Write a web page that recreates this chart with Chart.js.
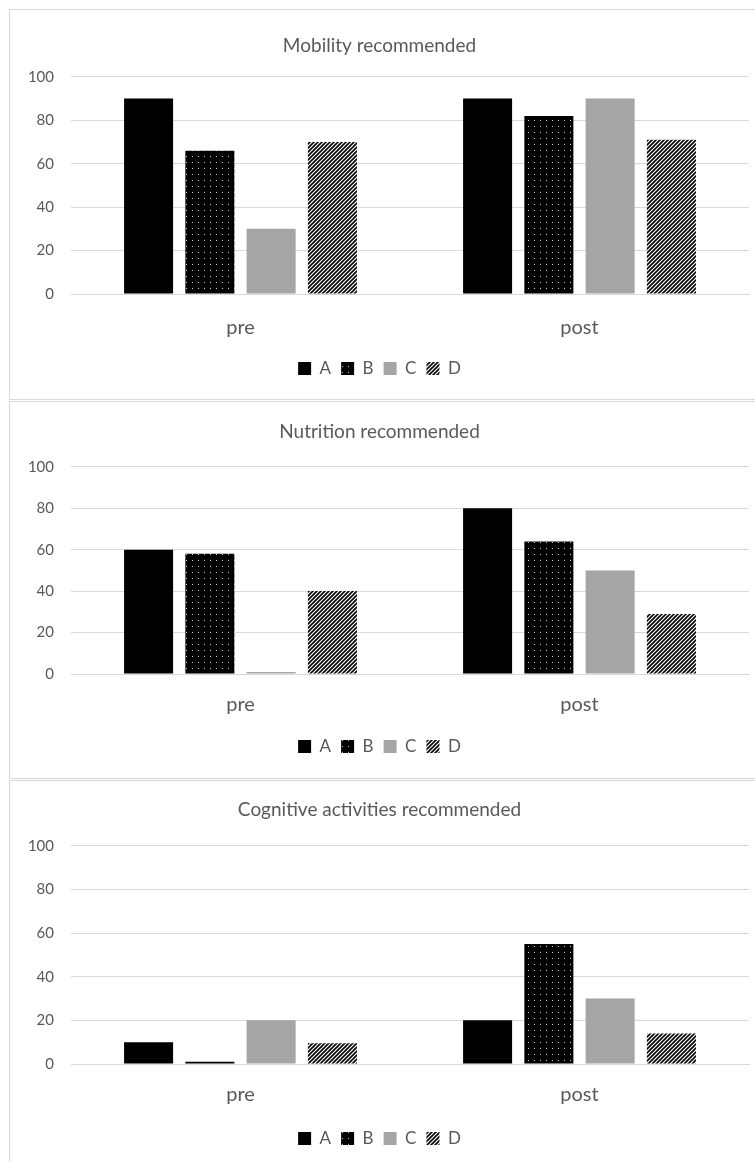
<!DOCTYPE html>
<html lang="en">
<head>
<meta charset="UTF-8">
<script src="https://cdn.jsdelivr.net/npm/chart.js"></script>
<title>Recommendations pre / post</title>
<style>
    body { margin: 0; background: #fff; width: 755px; height: 1161px; overflow: hidden; position: relative; }
    .panel { position: absolute; left: 9px; width: 770px; border: 1px solid #d9d9d9; box-sizing: border-box; }
    canvas { position: absolute; left: 10px; }
</style>
</head>
<body>
<div class="panel" style="top:9px;height:391px"></div>
<div class="panel" style="top:401px;height:378px"></div>
<div class="panel" style="top:780px;height:400px"></div>
<canvas id="c1" width="745" height="389" style="top:10px"></canvas>
<canvas id="c2" width="745" height="376" style="top:402px"></canvas>
<canvas id="c3" width="745" height="383" style="top:782px"></canvas>
<script>
    const categories = ['pre', 'post']
    const seriesNames = ['A', 'B', 'C', 'D']
    const yTicks = [0, 20, 40, 60, 80, 100]

    // Mobility recommended
    const mobilityA = [90, 90]
    const mobilityB = [66, 82]
    const mobilityC = [30, 90]
    const mobilityD = [70, 71]

    // Nutrition recommended
    const nutritionA = [60, 80]
    const nutritionB = [58, 64]
    const nutritionC = [1, 50]
    const nutritionD = [40, 29]

    // Cognitive activities recommended
    const cognitiveA = [10, 20]
    const cognitiveB = [1, 55]
    const cognitiveC = [20, 30]
    const cognitiveD = [9.5, 14]

    const FONT = 'Lato'
    const TEXT = '#595959'
    const GRID = '#d9d9d9'

    function dotPattern() {
        const c = document.createElement('canvas')
        c.width = 6; c.height = 6
        const x = c.getContext('2d')
        x.fillStyle = '#000'
        x.fillRect(0, 0, 6, 6)
        x.fillStyle = '#c8c8c8'
        x.fillRect(2, 2, 1, 1)
        return x.createPattern(c, 'repeat')
    }

    function stripePattern() {
        const c = document.createElement('canvas')
        c.width = 4; c.height = 4
        const x = c.getContext('2d')
        x.fillStyle = '#fff'
        x.fillRect(0, 0, 4, 4)
        x.strokeStyle = '#000'
        x.lineWidth = 1.6
        x.beginPath()
        x.moveTo(-1, 5); x.lineTo(5, -1)
        x.moveTo(-3, 3); x.lineTo(3, -3)
        x.moveTo(1, 7); x.lineTo(7, 1)
        x.stroke()
        return x.createPattern(c, 'repeat')
    }

    const fills = ['#000000', dotPattern(), '#a5a5a5', stripePattern()]

    function makeChart(id, title, values, g) {
        const datasets = seriesNames.map((name, i) => ({
            label: name,
            data: values[i],
            backgroundColor: fills[i],
            borderWidth: 0,
            categoryPercentage: 0.723,
            barPercentage: 0.8
        }))
        return new Chart(document.getElementById(id), {
            type: 'bar',
            data: { labels: categories, datasets },
            options: {
                responsive: false,
                animation: false,
                layout: { padding: { left: 0, right: 6, top: 0, bottom: g.padBottom } },
                plugins: {
                    title: {
                        display: true,
                        text: title,
                        color: TEXT,
                        font: { family: FONT, size: 19, weight: 'normal' },
                        padding: { top: g.titleTop, bottom: g.titleBottom }
                    },
                    legend: {
                        position: 'bottom',
                        labels: {
                            color: TEXT,
                            font: { family: FONT, size: 17 },
                            boxWidth: 13,
                            boxHeight: 13,
                            padding: 10
                        }
                    },
                    tooltip: { enabled: false }
                },
                scales: {
                    x: {
                        grid: { display: false, drawTicks: false },
                        border: { display: true, color: GRID, width: 1 },
                        ticks: { color: TEXT, font: { family: FONT, size: 20 }, padding: g.xPad },
                        afterFit: (s) => { s.height = g.xHeight }
                    },
                    y: {
                        min: 0, max: 100,
                        afterBuildTicks: (s) => { s.ticks = yTicks.map(v => ({ value: v })) },
                        grid: { color: GRID, drawTicks: false },
                        border: { display: false },
                        ticks: { color: TEXT, font: { family: FONT, size: 15 }, padding: 17 },
                        afterFit: (s) => { s.width = 61 }
                    }
                }
            }
        })
    }

    makeChart('c1', 'Mobility recommended', [mobilityA, mobilityB, mobilityC, mobilityD],
        { titleTop: 24, titleBottom: 20, xHeight: 56, xPad: 22, padBottom: 12 })
    makeChart('c2', 'Nutrition recommended', [nutritionA, nutritionB, nutritionC, nutritionD],
        { titleTop: 18, titleBottom: 24, xHeight: 54, xPad: 19, padBottom: 13 })
    makeChart('c3', 'Cognitive activities recommended', [cognitiveA, cognitiveB, cognitiveC, cognitiveD],
        { titleTop: 16, titleBottom: 25, xHeight: 56, xPad: 19, padBottom: 8 })
</script>
</body>
</html>
